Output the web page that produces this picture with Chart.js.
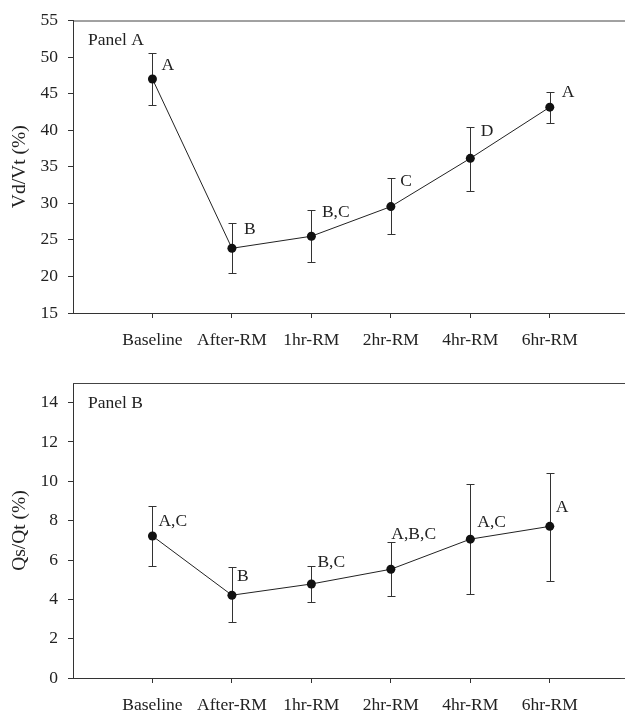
<!DOCTYPE html>
<html>
<head>
<meta charset="utf-8">
<script src="https://cdn.jsdelivr.net/npm/chart.js@4.4.1/dist/chart.umd.min.js"></script>
<style>
  body { margin: 0; background: #fff; overflow: hidden; }
  .panel { position: relative; width: 625px; }
</style>
</head>
<body>
<div class="panel" style="height:356px"><canvas id="chartA"></canvas></div>
<div class="panel" style="height:357px"><canvas id="chartB"></canvas></div>
<script>
const timepoints = ['Baseline', 'After-RM', '1hr-RM', '2hr-RM', '4hr-RM', '6hr-RM'];

// Panel A - Vd/Vt (%)
const vdvtMean    = [47.0, 23.85, 25.5, 29.55, 36.15, 43.15];
const vdvtUpper   = [50.6, 27.25, 29.1, 33.4, 40.5, 45.25];
const vdvtLower   = [43.4, 20.45, 21.95, 25.75, 31.65, 41.0];
const vdvtLetters = ['A', 'B', 'B,C', 'C', 'D', 'A'];
const vdvtTicks   = [15, 20, 25, 30, 35, 40, 45, 50, 55];

// Panel B - Qs/Qt (%)
const qsqtMean    = [7.22, 4.21, 4.78, 5.53, 7.06, 7.71];
const qsqtUpper   = [8.76, 5.62, 5.67, 6.89, 9.84, 10.42];
const qsqtLower   = [5.67, 2.83, 3.87, 4.16, 4.26, 4.94];
const qsqtLetters = ['A,C', 'B', 'B,C', 'A,B,C', 'A,C', 'A'];
const qsqtTicks   = [0, 2, 4, 6, 8, 10, 12, 14];

const SERIF = "'Liberation Serif', 'Times New Roman', serif";
Chart.defaults.font.family = SERIF;
Chart.defaults.color = '#222';

// error bars, letter groups, panel name and the top frame line
const errorBars = {
  id: 'errorBars',
  beforeDatasetsDraw(chart, args, opts) {
    const { ctx, scales: { x, y } } = chart;
    ctx.save();
    ctx.strokeStyle = '#333';
    ctx.lineWidth = 1;
    opts.upper.forEach((hi, i) => {
      const px = Math.round(x.getPixelForValue(i + 1)) + 0.5;
      const top = Math.round(y.getPixelForValue(hi)) + 0.5;
      const bot = Math.round(y.getPixelForValue(opts.lower[i])) + 0.5;
      ctx.beginPath();
      ctx.moveTo(px, top); ctx.lineTo(px, bot);
      ctx.moveTo(px - 4, top); ctx.lineTo(px + 4, top);
      ctx.moveTo(px - 4, bot); ctx.lineTo(px + 4, bot);
      ctx.stroke();
    });
    ctx.restore();
  },
  afterDatasetsDraw(chart, args, opts) {
    const { ctx, chartArea, scales: { x, y } } = chart;
    ctx.save();
    ctx.fillStyle = '#222';
    ctx.font = '17.5px ' + SERIF;
    ctx.textBaseline = 'middle';
    ctx.textAlign = 'left';
    opts.letters.forEach((txt, i) => {
      const px = x.getPixelForValue(i + 1);
      const py = y.getPixelForValue(opts.mean[i]);
      ctx.fillText(txt, px + opts.dx[i], py + opts.dy[i]);
    });
    ctx.fillText(opts.name, chartArea.left + 15, chartArea.top + 20);

    ctx.strokeStyle = '#444';
    ctx.lineWidth = 1;
    ctx.beginPath();
    ctx.moveTo(chartArea.left, chartArea.top + 0.5);
    ctx.lineTo(chart.width, chartArea.top + 0.5);
    ctx.moveTo(chartArea.right, chartArea.bottom + 0.5);
    ctx.lineTo(chart.width, chartArea.bottom + 0.5);
    ctx.stroke();
    ctx.restore();
  }
};

function makePanel(id, cfg) {
  const ctx = document.getElementById(id).getContext('2d');
  return new Chart(ctx, {
    type: 'line',
    data: {
      datasets: [{
        data: cfg.mean.map((v, i) => ({ x: i + 1, y: v })),
        borderColor: '#222',
        borderWidth: 1,
        pointRadius: 4.5,
        pointBackgroundColor: '#111',
        pointBorderColor: '#111',
        pointBorderWidth: 0,
        tension: 0
      }]
    },
    options: {
      responsive: true,
      maintainAspectRatio: false,
      animation: false,
      layout: { padding: { top: cfg.top, right: 0, bottom: 0, left: 0 } },
      plugins: {
        legend: { display: false },
        tooltip: { enabled: false },
        errorBars: {
          mean: cfg.mean, upper: cfg.upper, lower: cfg.lower,
          letters: cfg.letters, dx: cfg.dx, dy: cfg.dy, name: cfg.name
        }
      },
      scales: {
        x: {
          type: 'linear',
          min: 0,
          max: 6.89,
          afterBuildTicks: axis => { axis.ticks = timepoints.map((t, i) => ({ value: i + 1 })); },
          afterFit: axis => { axis.height = cfg.xHeight; },
          ticks: {
            autoSkip: false,
            maxRotation: 0,
            padding: 12,
            font: { size: 17.5 },
            callback: v => timepoints[v - 1] || ''
          },
          grid: { drawOnChartArea: false, drawTicks: true, tickLength: 5, color: '#333' },
          border: { display: true, color: '#333', width: 1 }
        },
        y: {
          min: cfg.yMin,
          max: cfg.yMax,
          afterBuildTicks: axis => { axis.ticks = cfg.ticks.map(v => ({ value: v })); },
          afterFit: axis => { axis.width = 73; },
          ticks: { padding: 10, font: { size: 17.5 } },
          grid: { drawOnChartArea: false, drawTicks: true, tickLength: 5, color: '#333' },
          border: { display: true, color: '#333', width: 1 },
          title: {
            display: true,
            text: cfg.title,
            font: { size: 19.5 },
            padding: { top: 8, bottom: 0 }
          }
        }
      }
    },
    plugins: [errorBars]
  });
}

makePanel('chartA', {
  mean: vdvtMean, upper: vdvtUpper, lower: vdvtLower, letters: vdvtLetters,
  dx: [9, 12, 10.5, 9.5, 10.5, 12],
  dy: [-14, -19, -24, -25, -27, -15],
  name: 'Panel A', title: 'Vd/Vt (%)',
  ticks: vdvtTicks, yMin: 15, yMax: 55,
  top: 16, xHeight: 43
});

makePanel('chartB', {
  mean: qsqtMean, upper: qsqtUpper, lower: qsqtLower, letters: qsqtLetters,
  dx: [6, 5, 6, 0.5, 7, 6],
  dy: [-15, -19, -22, -35, -17, -19],
  name: 'Panel B', title: 'Qs/Qt (%)',
  ticks: qsqtTicks, yMin: 0, yMax: 15,
  top: 27, xHeight: 35
});
</script>
</body>
</html>
